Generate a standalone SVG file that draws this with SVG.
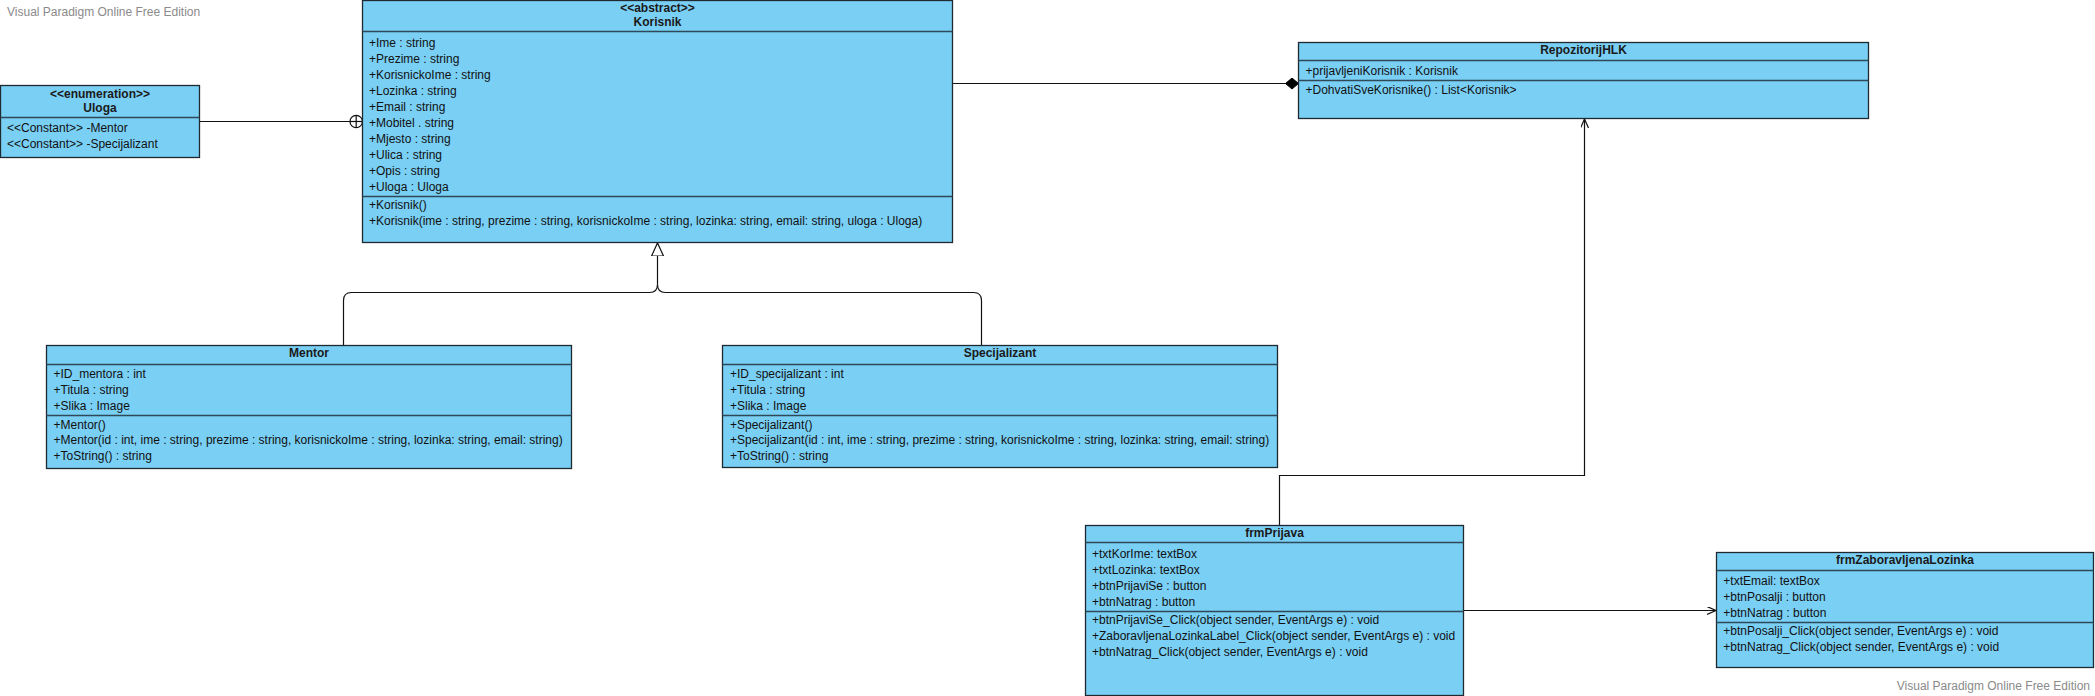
<svg xmlns="http://www.w3.org/2000/svg" width="2095" height="696" viewBox="0 0 2095 696">
<defs>
<style>
.box{fill:#7acff5;stroke:#1e2a30;stroke-width:1.3}
.sep{stroke:#2e4a58;stroke-width:1.3;fill:none}
.t{font-family:"Liberation Sans",Arial,sans-serif;font-size:12px;fill:#111}
.b{font-weight:bold;fill:#1a1a1a}
.c{text-anchor:middle}
.wm{font-family:"Liberation Sans",Arial,sans-serif;font-size:12px;fill:#8a8a8a}
.ln{fill:none;stroke:#111;stroke-width:1.2}
</style>
<marker id="open" markerUnits="userSpaceOnUse" markerWidth="12" markerHeight="10" refX="9" refY="4" orient="auto">
<path d="M0,0 L9,4 L0,8" fill="none" stroke="#111" stroke-width="1.2"/>
</marker>
<marker id="diamond" markerUnits="userSpaceOnUse" markerWidth="16" markerHeight="14" refX="14" refY="6" orient="auto">
<path d="M1,6 L7.5,0.5 L14,6 L7.5,11.5 Z" fill="#000" stroke="#000" stroke-width="1"/>
</marker>
<marker id="tri" markerUnits="userSpaceOnUse" markerWidth="16" markerHeight="16" refX="13" refY="7" orient="auto">
<path d="M0,1 L13,7 L0,13 Z" fill="#fff" stroke="#111" stroke-width="1.2"/>
</marker>
</defs>
<rect width="2095" height="696" fill="#fff"/>
<text class="wm" x="7" y="16">Visual Paradigm Online Free Edition</text>
<text class="wm" x="2090" y="690" text-anchor="end">Visual Paradigm Online Free Edition</text>

<g id="connectors">
<line class="ln" x1="199.5" y1="121.5" x2="350" y2="121.5"/>
<circle cx="356.2" cy="121.5" r="6.2" fill="none" stroke="#111" stroke-width="1.2"/>
<line class="ln" x1="350" y1="121.5" x2="362.4" y2="121.5"/>
<line class="ln" x1="356.2" y1="115.3" x2="356.2" y2="127.7"/>
<line class="ln" x1="952.5" y1="83.5" x2="1298.5" y2="83.5" marker-end="url(#diamond)"/>
<path class="ln" d="M343.5,345.5 V300.5 Q343.5,292.5 351.5,292.5 H649.5 Q657.5,292.5 657.5,284.5"/>
<path class="ln" d="M981.5,345.5 V300.5 Q981.5,292.5 973.5,292.5 H665.5 Q657.5,292.5 657.5,284.5"/>
<path class="ln" d="M657.5,284.5 V243" marker-end="url(#tri)"/>
<path class="ln" d="M1279.5,525.5 V475.5 H1584.5 V119" marker-end="url(#open)"/>
<line class="ln" x1="1463.5" y1="610.5" x2="1716" y2="610.5" marker-end="url(#open)"/>
</g>

<g id="Uloga">
<rect class="box" x="0.5" y="85.5" width="199" height="72"/>
<line class="sep" x1="0.5" y1="117.5" x2="199.5" y2="117.5"/>
<text class="t b c" x="100" y="97.5">&lt;&lt;enumeration&gt;&gt;</text>
<text class="t b c" x="100" y="111.5">Uloga</text>
<text class="t" x="7" y="132">&lt;&lt;Constant&gt;&gt; -Mentor</text>
<text class="t" x="7" y="148.3">&lt;&lt;Constant&gt;&gt; -Specijalizant</text>
</g>

<g id="Korisnik">
<rect class="box" x="362.5" y="0.5" width="590" height="242"/>
<line class="sep" x1="362.5" y1="31.5" x2="952.5" y2="31.5"/>
<line class="sep" x1="362.5" y1="196.5" x2="952.5" y2="196.5"/>
<text class="t b c" x="657.5" y="11.6">&lt;&lt;abstract&gt;&gt;</text>
<text class="t b c" x="657.5" y="26">Korisnik</text>
<text class="t" x="369" y="47">+Ime : string</text>
<text class="t" x="369" y="63">+Prezime : string</text>
<text class="t" x="369" y="79">+KorisnickoIme : string</text>
<text class="t" x="369" y="95">+Lozinka : string</text>
<text class="t" x="369" y="111">+Email : string</text>
<text class="t" x="369" y="127">+Mobitel . string</text>
<text class="t" x="369" y="143">+Mjesto : string</text>
<text class="t" x="369" y="159">+Ulica : string</text>
<text class="t" x="369" y="175">+Opis : string</text>
<text class="t" x="369" y="191">+Uloga : Uloga</text>
<text class="t" x="369" y="208.6">+Korisnik()</text>
<text class="t" x="369" y="225">+Korisnik(ime : string, prezime : string, korisnickoIme : string, lozinka: string, email: string, uloga : Uloga)</text>
</g>

<g id="RepozitorijHLK">
<rect class="box" x="1298.5" y="42.5" width="570" height="76"/>
<line class="sep" x1="1298.5" y1="60.5" x2="1868.5" y2="60.5"/>
<line class="sep" x1="1298.5" y1="80.5" x2="1868.5" y2="80.5"/>
<text class="t b c" x="1583.5" y="54.3">RepozitorijHLK</text>
<text class="t" x="1305.5" y="75.3">+prijavljeniKorisnik : Korisnik</text>
<text class="t" x="1305.5" y="93.6">+DohvatiSveKorisnike() : List&lt;Korisnik&gt;</text>
</g>

<g id="Mentor">
<rect class="box" x="46.5" y="345.5" width="525" height="123"/>
<line class="sep" x1="46.5" y1="364.5" x2="571.5" y2="364.5"/>
<line class="sep" x1="46.5" y1="415.5" x2="571.5" y2="415.5"/>
<text class="t b c" x="309" y="356.8">Mentor</text>
<text class="t" x="53.5" y="378.3">+ID_mentora : int</text>
<text class="t" x="53.5" y="394">+Titula : string</text>
<text class="t" x="53.5" y="410">+Slika : Image</text>
<text class="t" x="53.5" y="428.6">+Mentor()</text>
<text class="t" x="53.5" y="444.3">+Mentor(id : int, ime : string, prezime : string, korisnickoIme : string, lozinka: string, email: string)</text>
<text class="t" x="53.5" y="460">+ToString() : string</text>
</g>

<g id="Specijalizant">
<rect class="box" x="722.5" y="345.5" width="555" height="122"/>
<line class="sep" x1="722.5" y1="364.5" x2="1277.5" y2="364.5"/>
<line class="sep" x1="722.5" y1="415.5" x2="1277.5" y2="415.5"/>
<text class="t b c" x="1000" y="356.8">Specijalizant</text>
<text class="t" x="730" y="378.3">+ID_specijalizant : int</text>
<text class="t" x="730" y="394">+Titula : string</text>
<text class="t" x="730" y="410">+Slika : Image</text>
<text class="t" x="730" y="428.6">+Specijalizant()</text>
<text class="t" x="730" y="444.3">+Specijalizant(id : int, ime : string, prezime : string, korisnickoIme : string, lozinka: string, email: string)</text>
<text class="t" x="730" y="460">+ToString() : string</text>
</g>

<g id="frmPrijava">
<rect class="box" x="1085.5" y="525.5" width="378" height="170"/>
<line class="sep" x1="1085.5" y1="542.5" x2="1463.5" y2="542.5"/>
<line class="sep" x1="1085.5" y1="611.5" x2="1463.5" y2="611.5"/>
<text class="t b c" x="1274.5" y="537">frmPrijava</text>
<text class="t" x="1092" y="557.6">+txtKorIme: textBox</text>
<text class="t" x="1092" y="573.6">+txtLozinka: textBox</text>
<text class="t" x="1092" y="589.8">+btnPrijaviSe : button</text>
<text class="t" x="1092" y="605.8">+btnNatrag : button</text>
<text class="t" x="1092" y="623.6">+btnPrijaviSe_Click(object sender, EventArgs e) : void</text>
<text class="t" x="1092" y="640">+ZaboravljenaLozinkaLabel_Click(object sender, EventArgs e) : void</text>
<text class="t" x="1092" y="656">+btnNatrag_Click(object sender, EventArgs e) : void</text>
</g>

<g id="frmZaboravljenaLozinka">
<rect class="box" x="1716.5" y="552.5" width="377" height="115"/>
<line class="sep" x1="1716.5" y1="570.5" x2="2093.5" y2="570.5"/>
<line class="sep" x1="1716.5" y1="622.5" x2="2093.5" y2="622.5"/>
<text class="t b c" x="1905" y="564.3">frmZaboravljenaLozinka</text>
<text class="t" x="1723.3" y="585.3">+txtEmail: textBox</text>
<text class="t" x="1723.3" y="601.3">+btnPosalji : button</text>
<text class="t" x="1723.3" y="617">+btnNatrag : button</text>
<text class="t" x="1723.3" y="635">+btnPosalji_Click(object sender, EventArgs e) : void</text>
<text class="t" x="1723.3" y="651.3">+btnNatrag_Click(object sender, EventArgs e) : void</text>
</g>
</svg>
